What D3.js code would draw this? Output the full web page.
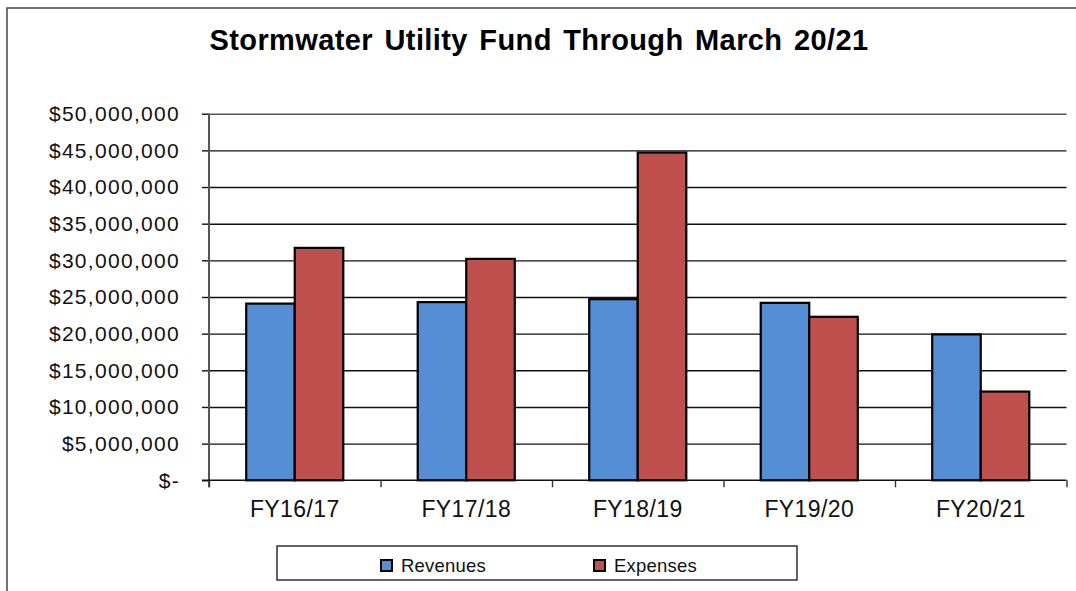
<!DOCTYPE html>
<html>
<head>
<meta charset="utf-8">
<script src="https://cdn.jsdelivr.net/npm/d3@7"></script>
<style>
  html, body { margin: 0; padding: 0; background: #fff; }
  svg { display: block; font-family: Arial, "Liberation Sans", sans-serif; }
</style>
</head>
<body>
<svg id="chart" width="1076" height="591"></svg>
<script>
// Stormwater Utility Fund – revenues vs expenses by fiscal year
const categories = ['FY16/17', 'FY17/18', 'FY18/19', 'FY19/20', 'FY20/21'];
const revenues = [24100000, 24300000, 24700000, 24200000, 19900000];
const expenses = [31700000, 30200000, 44700000, 22300000, 12100000];
const seriesNames = ['Revenues', 'Expenses'];
const yTicks = [0, 5e6, 10e6, 15e6, 20e6, 25e6, 30e6, 35e6, 40e6, 45e6, 50e6];
const titleText = 'Stormwater Utility Fund Through March 20/21';

const colors = { Revenues: '#558ed5', Expenses: '#c0504d' };

const svg = d3.select('#chart');
const W = 1076, H = 591;
const plotL = 209, plotR = 1066.5, plotT = 113.7, plotB = 480.3;

// outer chart frame (runs off right/bottom edge)
svg.append('rect')
  .attr('x', 7).attr('y', 8)
  .attr('width', W + 10).attr('height', H + 10)
  .attr('fill', '#fff')
  .attr('stroke', '#444')
  .attr('stroke-width', 1.5);

svg.append('text')
  .attr('x', 539).attr('y', 50)
  .attr('text-anchor', 'middle')
  .attr('font-size', 29)
  .attr('font-weight', 'bold')
  .attr('letter-spacing', 0.4)
  .attr('word-spacing', 3)
  .text(titleText);

const y = d3.scaleLinear().domain([0, 50e6]).range([plotB, plotT]);
const x0 = d3.scaleBand().domain(categories).range([plotL, plotR])
  .paddingInner(0.434).paddingOuter(0.217);
const x1 = d3.scaleBand().domain(seriesNames).range([0, x0.bandwidth()]);

// gridlines
const grid = svg.append('g').attr('transform', `translate(${plotL},0)`)
  .call(d3.axisLeft(y).tickValues(yTicks.slice(1)).tickSize(-(plotR - plotL)).tickFormat(''));
grid.select('.domain').remove();
grid.selectAll('line').attr('stroke', '#111').attr('stroke-width', 1.4);
grid.selectAll('.tick').filter((d) => d === 50e6).select('line').attr('stroke', '#555');

// y axis with labels
const fmt = (d) => (d === 0 ? '$-' : '$' + d3.format(',')(d));
const yAxis = svg.append('g').attr('transform', `translate(${plotL},0)`)
  .call(d3.axisLeft(y).tickValues(yTicks).tickSize(7).tickPadding(22).tickFormat(fmt));
yAxis.select('.domain').remove();
yAxis.selectAll('line').attr('stroke', '#111').attr('stroke-width', 1.4);
yAxis.selectAll('text')
  .attr('fill', '#111')
  .attr('font-size', 21)
  .attr('letter-spacing', 1.3)
  .attr('font-family', 'Arial, "Liberation Sans", sans-serif');

// bars
const groups = svg.append('g').selectAll('g')
  .data(categories)
  .join('g')
  .attr('transform', (d) => `translate(${x0(d)},0)`);

groups.selectAll('rect')
  .data((d, i) => [
    { key: 'Revenues', value: revenues[i] },
    { key: 'Expenses', value: expenses[i] },
  ])
  .join('rect')
  .attr('x', (d) => x1(d.key))
  .attr('y', (d) => y(d.value))
  .attr('width', x1.bandwidth())
  .attr('height', (d) => y(0) - y(d.value))
  .attr('fill', (d) => colors[d.key])
  .attr('stroke', '#000')
  .attr('stroke-width', 2.2);

// y axis line
svg.append('line')
  .attr('x1', plotL).attr('x2', plotL)
  .attr('y1', plotT).attr('y2', plotB + 7)
  .attr('stroke', '#555').attr('stroke-width', 2);

// x axis: baseline + boundary ticks
const xb = d3.scaleLinear().domain([0, categories.length]).range([plotL, plotR]);
const xTickAxis = svg.append('g').attr('transform', `translate(0,${plotB})`)
  .call(d3.axisBottom(xb).tickValues(d3.range(categories.length + 1)).tickSize(7).tickFormat(''));
xTickAxis.select('.domain').attr('d', `M${plotL - 7},0H${plotR}`).attr('stroke', '#111').attr('stroke-width', 1.4);
xTickAxis.selectAll('line').attr('stroke', '#333').attr('stroke-width', 1.4);

const xAxis = svg.append('g').attr('transform', `translate(0,${plotB})`)
  .call(d3.axisBottom(x0).tickSize(0).tickPadding(20));
xAxis.select('.domain').remove();
xAxis.selectAll('text')
  .attr('fill', '#111')
  .attr('font-size', 23)
  .attr('letter-spacing', 0.4)
  .attr('font-family', 'Arial, "Liberation Sans", sans-serif');

// legend
const legend = svg.append('g');
legend.append('rect')
  .attr('x', 277).attr('y', 546).attr('width', 520).attr('height', 34)
  .attr('fill', '#fff').attr('stroke', '#222').attr('stroke-width', 1.4);
const legendX = { Revenues: 381, Expenses: 594 };
const items = legend.selectAll('g.item').data(seriesNames).join('g')
  .attr('class', 'item')
  .attr('transform', (d) => `translate(${legendX[d]},560)`);
items.append('rect')
  .attr('width', 11).attr('height', 11)
  .attr('fill', (d) => colors[d])
  .attr('stroke', '#000').attr('stroke-width', 2);
items.append('text')
  .attr('x', 20).attr('y', 11.5)
  .attr('font-size', 18.5)
  .attr('letter-spacing', 0.2)
  .attr('fill', '#111')
  .text((d) => d);
</script>
</body>
</html>
